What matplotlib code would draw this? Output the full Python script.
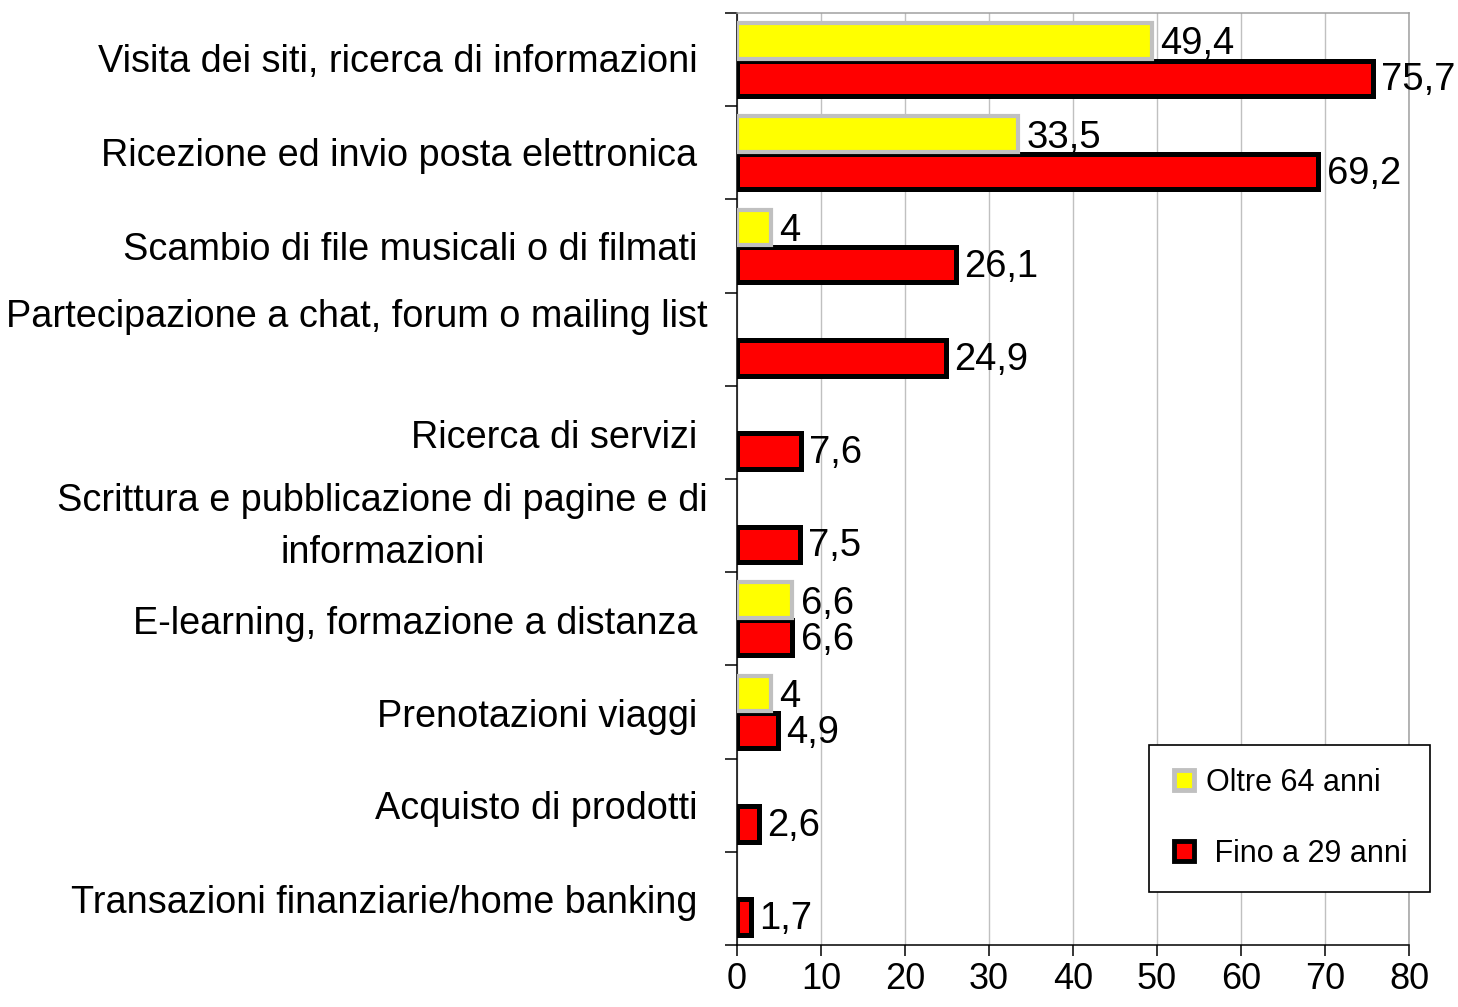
import numpy as np
import matplotlib
matplotlib.use("Agg")
import matplotlib.pyplot as plt
from matplotlib.lines import Line2D

categories = [
    "Visita dei siti, ricerca di informazioni ",
    "Ricezione ed invio posta elettronica ",
    "Scambio di file musicali o di filmati ",
    "Partecipazione a chat, forum o mailing list",
    "Ricerca di servizi ",
    "Scrittura e pubblicazione di pagine e di\ninformazioni",
    "E-learning, formazione a distanza ",
    "Prenotazioni viaggi ",
    "Acquisto di prodotti ",
    "Transazioni finanziarie/home banking ",
]
oltre64 = [49.4, 33.5, 4, np.nan, np.nan, np.nan, 6.6, 4, np.nan, np.nan]
fino29 = [75.7, 69.2, 26.1, 24.9, 7.6, 7.5, 6.6, 4.9, 2.6, 1.7]
xticks = [0, 10, 20, 30, 40, 50, 60, 70, 80]
series_labels = ["Oltre 64 anni", " Fino a 29 anni"]

REG = ["Liberation Sans", "DejaVu Sans"]

fig = plt.figure(figsize=(14.58, 10.07), dpi=100)
ax = fig.add_axes([737/1458, 1-945/1007, (1409-737)/1458, (945-13)/1007])

y = np.arange(len(categories))
h = 0.38
off = 0.2

ax.barh(y + off, fino29, height=h, color="#ff0000", edgecolor="black",
        linewidth=3.6, zorder=3)
ax.barh(y - off, oltre64, height=h, color="#ffff00", edgecolor="#c0c0c0",
        linewidth=3.0, zorder=4)

def fmt(v):
    s = ("%.1f" % v).rstrip("0").rstrip(".")
    return s.replace(".", ",")

for yi, v in zip(y, fino29):
    ax.annotate(fmt(v), (v, yi + off), xytext=(6, -1.5), textcoords="offset points",
                va="center", ha="left", fontsize=27.5, family=REG, zorder=5)
for yi, v in zip(y, oltre64):
    if not np.isnan(v):
        ax.annotate(fmt(v), (v, yi - off), xytext=(6, -2.5), textcoords="offset points",
                    va="center", ha="left", fontsize=27.5, family=REG, zorder=5)

ax.set_xlim(0, 80)
ax.set_ylim(len(categories) - 0.5, -0.5)
ax.set_xticks(xticks)
ax.set_xticklabels([str(t) for t in xticks], fontsize=26, family=REG)
ax.tick_params(axis="x", direction="out", length=8, width=1.1, pad=4, colors="black")

ax.set_yticks(np.arange(len(categories) + 1) - 0.5)
ax.set_yticklabels([])
ax.tick_params(axis="y", which="major", direction="out", length=8.5, width=1.1)

# category labels (Excel-style placement)
label_dy = [-1.5, -2, -3, 16, -4, -1, -3.5, -3.5, -3, -3]
for yi, lab, dy in zip(y, categories, label_dy):
    ax.annotate(lab, xy=(0, yi), xycoords=("axes fraction", "data"),
                xytext=(-21, dy), textcoords="offset points",
                ha="right", va="center", multialignment="center",
                linespacing=1.6, fontsize=27.3, family=REG, annotation_clip=False)

ax.grid(axis="x", color="#c0c0c0", linewidth=1.0, zorder=0)
ax.set_axisbelow(True)
for s in ["left", "bottom"]:
    ax.spines[s].set_color("black")
    ax.spines[s].set_linewidth(1.1)
for s in ["top", "right"]:
    ax.spines[s].set_color("#a0a0a0")
    ax.spines[s].set_linewidth(1.1)

handles = [
    Line2D([], [], linestyle="none", marker="s", markersize=14,
           markerfacecolor="#ffff00", markeredgecolor="#c0c0c0", markeredgewidth=3.5),
    Line2D([], [], linestyle="none", marker="s", markersize=14,
           markerfacecolor="#ff0000", markeredgecolor="black", markeredgewidth=3.5),
]
leg = fig.legend(handles, series_labels, loc="upper left",
                 bbox_to_anchor=(1149/1458, 1-745/1007), bbox_transform=fig.transFigure,
                 prop={"family": REG, "size": 22}, frameon=True, fancybox=False,
                 edgecolor="black", framealpha=1, borderpad=0.75, labelspacing=1.35,
                 handlelength=0.8, handletextpad=0.3, borderaxespad=0)
leg.get_frame().set_linewidth(1.2)

fig.savefig("out.png", dpi=100)
